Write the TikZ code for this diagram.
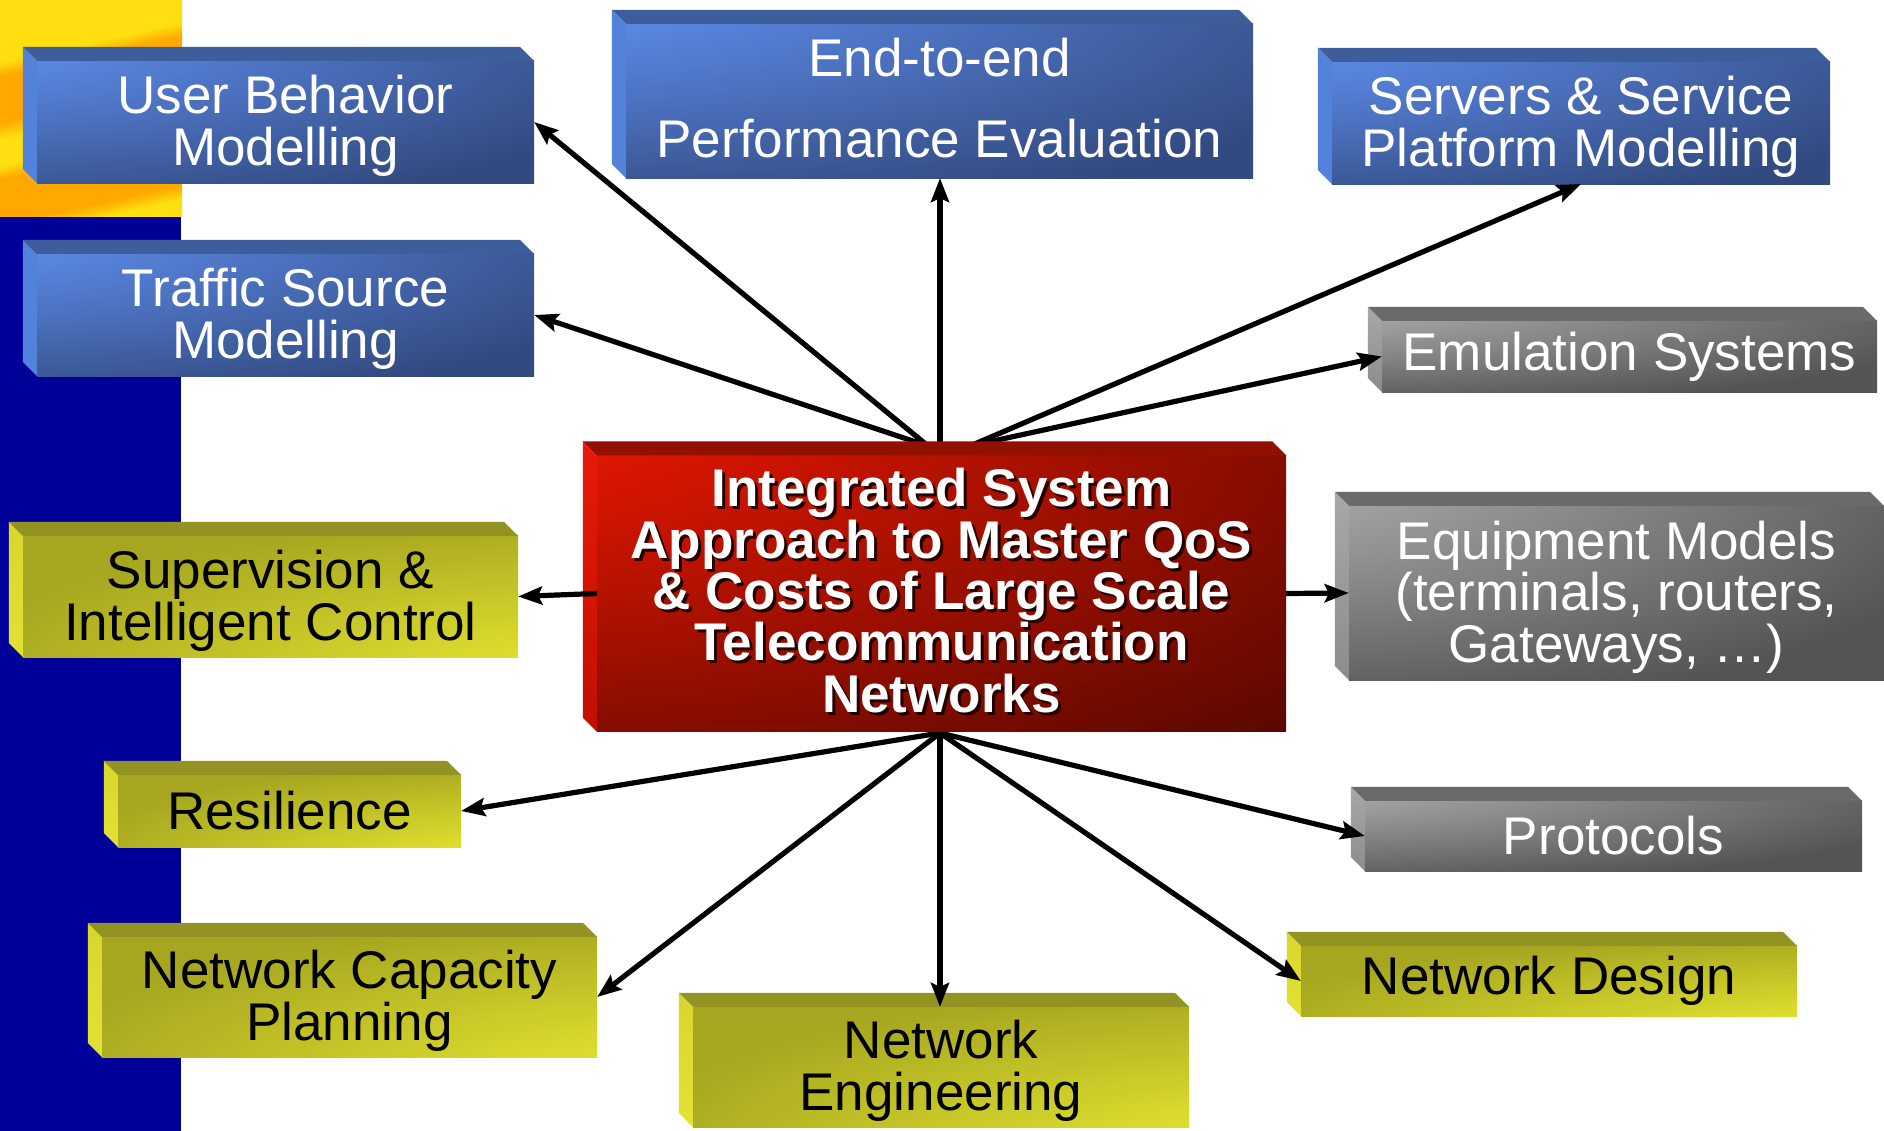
\documentclass[tikz,border=0pt]{standalone}
\usepackage{fontspec}
\setmainfont{Liberation Sans}
\usetikzlibrary{arrows.meta}

% palette
\definecolor{stripblue}{HTML}{000099}
\definecolor{stripyellow}{HTML}{FFDF10}
\definecolor{striporange}{HTML}{FFA800}
\definecolor{bluelight}{HTML}{6699FF}
\definecolor{bluedark}{HTML}{324A80}
\definecolor{bluetop}{HTML}{3E5D9B}
\definecolor{blueside}{HTML}{5282DA}
\definecolor{greylight}{HTML}{BCBCBC}
\definecolor{greydark}{HTML}{545454}
\definecolor{greytop}{HTML}{6A6A6A}
\definecolor{greysideA}{HTML}{A8A8A8}
\definecolor{greysideB}{HTML}{8C8C8C}
\definecolor{redlight}{HTML}{FF1A00}
\definecolor{reddark}{HTML}{5A0800}
\definecolor{redtop}{HTML}{921000}
\definecolor{redsideA}{HTML}{E81A08}
\definecolor{redsideB}{HTML}{C01000}
\definecolor{yellowlight}{HTML}{F5F535}
\definecolor{yellowdark}{HTML}{A6A620}
\definecolor{yellowtop}{HTML}{939323}
\definecolor{yellowsideA}{HTML}{D6D62E}
\definecolor{yellowsideB}{HTML}{E2E234}
\definecolor{txtshadow}{HTML}{260000}

% front-face gradients, light corner top left (bottom right for the yellow ones)
\pgfdeclareradialshading{bluefront}{\pgfpoint{-50bp}{50bp}}{color(0bp)=(bluelight); color(12bp)=(bluelight); color(66bp)=(bluedark); color(150bp)=(bluedark)}
\pgfdeclareradialshading{greyfront}{\pgfpoint{-50bp}{50bp}}{color(0bp)=(greylight); color(10bp)=(greylight); color(64bp)=(greydark); color(150bp)=(greydark)}
\pgfdeclareradialshading{redfront}{\pgfpoint{-50bp}{50bp}}{color(0bp)=(redlight); color(12bp)=(redlight); color(72bp)=(reddark); color(150bp)=(reddark)}
\pgfdeclareradialshading{yellowfront}{\pgfpoint{50bp}{-50bp}}{color(0bp)=(yellowlight); color(8bp)=(yellowlight); color(62bp)=(yellowdark); color(150bp)=(yellowdark)}

\newcommand\boxfont{\fontsize{15.08pt}{14.7pt}\selectfont}
\newcommand\ctrfont{\bfseries\fontsize{15.08pt}{14.6pt}\selectfont}
% invisible struts that move a text block a little down or up inside its block
\newcommand\topstrut{\rule{0pt}{13.2pt}}
\newcommand\basestrut{\rule[-1.8pt]{0pt}{0pt}}
\newcommand\ctrtext{Integrated System\\Approach to Master QoS\\\& Costs of Large Scale\\Telecommunication\\Networks\basestrut}

% top and left faces of a block whose front face is node #1
\newcommand\bevel[4]{%
  \fill[#2] (#1.north west) -- ++(-14,-14) -- ([shift={(-14,-14)}]#1.north east) -- (#1.north east) -- cycle;
  \shade[top color=#3, bottom color=#4] (#1.north west) -- ++(-14,-14) -- ([shift={(-14,-14)}]#1.south west) -- (#1.south west) -- cycle;
}

\tikzset{
  face/.style={rectangle, inner sep=0pt, outer sep=0pt, align=center, font=\boxfont},
  bluebox/.style={face, shade, shading=bluefront, text=white},
  greybox/.style={face, shade, shading=greyfront, text=white},
  yellowbox/.style={face, shade, shading=yellowfront, text=black},
  redbox/.style={face, shade, shading=redfront, text=white, font=\ctrfont},
  dropshadow/.style={inner sep=0pt, align=center, font=\ctrfont, text=txtshadow},
  conn/.style={line width=0.052cm, -{Stealth[length=0.24cm, width=0.18cm, inset=0.04cm]}},
}

\begin{document}
\begin{tikzpicture}[x=0.01cm, y=-0.01cm]
\useasboundingbox (0,0) rectangle (1884,1131);
\fill[white] (0,0) rectangle (1884,1131);

% left margin strip
\fill[stripblue] (0,217) rectangle (181,1131);
\begin{scope}
  \clip (0,0) rectangle (182,217);
  \foreach \k in {0,...,135} {
    \pgfmathsetmacro\yy{-6+2*\k}
    \pgfmathsetmacro\pp{100*(1 - max(0,min(1,(\yy-63)/14)) + max(0,min(1,(\yy-123)/17)) - max(0,min(1,(\yy-167)/13)) + max(0,min(1,(\yy-225)/15)))}
    \fill[stripyellow!\pp!striporange] (0,\yy-1) -- (182,\yy-41) -- (182,\yy-38.4) -- (0,\yy+1.6) -- cycle;
  }
\end{scope}

% outer blocks
\node[bluebox, minimum width=4.97cm, minimum height=1.22cm] (ub) at (285.5,122) {\topstrut User Behavior\\Modelling};
\bevel{ub}{bluetop}{blueside}{blueside}
\node[bluebox, minimum width=4.97cm, minimum height=1.22cm] (ts) at (285.5,315) {\topstrut Traffic Source\\Modelling};
\bevel{ts}{bluetop}{blueside}{blueside}
\node[bluebox, minimum width=6.27cm, minimum height=1.54cm] (e2e) at (939.5,101) {End-to-end\\[0.29cm]Performance Evaluation\basestrut};
\bevel{e2e}{bluetop}{blueside}{blueside}
\node[bluebox, minimum width=4.98cm, minimum height=1.22cm] (srv) at (1581,123) {\topstrut Servers \& Service\\Platform Modelling};
\bevel{srv}{bluetop}{blueside}{blueside}

\node[greybox, minimum width=4.95cm, minimum height=0.71cm] (emu) at (1629.5,356.5) {Emulation Systems};
\bevel{emu}{greytop}{greysideA}{greysideB}
\node[greybox, minimum width=5.35cm, minimum height=1.74cm] (eq) at (1616.5,593) {\topstrut Equipment Models\\(terminals, routers,\\Gateways, …)};
\bevel{eq}{greytop}{greysideA}{greysideB}
\node[greybox, minimum width=4.97cm, minimum height=0.70cm] (pro) at (1613.5,836) {Protocols};
\bevel{pro}{greytop}{greysideA}{greysideB}

\node[yellowbox, minimum width=4.95cm, minimum height=1.21cm] (sup) at (270.5,596.5) {\topstrut Supervision \&\\Intelligent Control};
\bevel{sup}{yellowtop}{yellowsideA}{yellowsideB}
\node[yellowbox, minimum width=3.43cm, minimum height=0.72cm] (res) at (289.5,811) {Resilience};
\bevel{res}{yellowtop}{yellowsideA}{yellowsideB}
\node[yellowbox, minimum width=4.95cm, minimum height=1.20cm] (ncp) at (349.5,997) {\topstrut Network Capacity\\Planning};
\bevel{ncp}{yellowtop}{yellowsideA}{yellowsideB}
\node[yellowbox, minimum width=4.96cm, minimum height=1.20cm] (ne) at (941,1067) {\topstrut Network\\Engineering};
\bevel{ne}{yellowtop}{yellowsideA}{yellowsideB}
\node[yellowbox, minimum width=4.96cm, minimum height=0.70cm] (nd) at (1549,981) {Network Design};
\bevel{nd}{yellowtop}{yellowsideA}{yellowsideB}

% connectors fanning out of the central block (their roots are hidden under it)
\coordinate (rootleft) at (928,446);
\coordinate (rootmid) at (940,446);
\coordinate (rootright) at (970,446);
\coordinate (rootbottom) at (940,733);
\draw[conn] (rootleft) -- (ub.east);
\draw[conn] (rootleft) -- (ts.east);
\draw[conn] (rootmid) -- (rootmid |- e2e.south);
\draw[conn] (rootright) -- (srv.south);
\draw[conn] (rootright) -- (emu.west);
\draw[conn] (rootbottom) -- (res.east);
\draw[conn] (rootbottom) -- (ncp.east);
\draw[conn] (rootbottom) -- (rootbottom |- ne.north);
\draw[conn] (rootbottom) -- (nd.west);
\draw[conn] (rootbottom) -- (pro.west);

% central block, its lettering carries a dark drop shadow
\node[redbox, minimum width=6.89cm, minimum height=2.76cm,
  path picture={\node[dropshadow] (ctrshadow) at ([shift={(3,3)}]path picture bounding box.center) {\ctrtext};}]
  (ctr) at (941.5,593.5) {\ctrtext};
\bevel{ctr}{redtop}{redsideA}{redsideB}
\draw[conn] (ctr.west) -- (sup.east);
\draw[conn] (ctr.east) -- (eq.west);
\end{tikzpicture}
\end{document}
